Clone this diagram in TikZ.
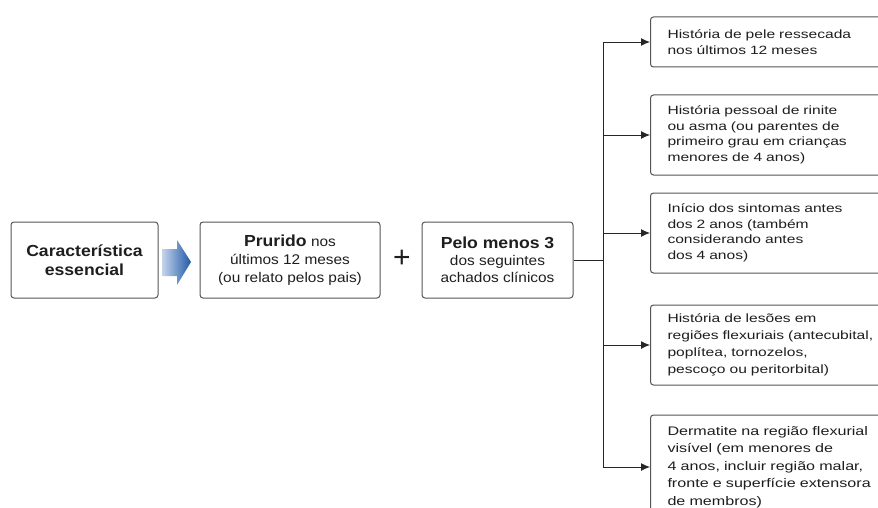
\documentclass[tikz,border=0pt]{standalone}
\usepackage{fontspec}
\setmainfont{Liberation Sans}
\newfontfamily\rfont{Liberation Sans}[FakeStretch=1.3]
\newfontfamily\lfont{Liberation Sans}[FakeStretch=1.1]
\usetikzlibrary{arrows.meta}
\definecolor{txt}{HTML}{1E1E1E}
\definecolor{brd}{HTML}{555555}
\definecolor{arrlight}{HTML}{C6D4EC}
\definecolor{arrdark}{HTML}{1F5AA6}
\tikzset{
  box/.style={draw=brd, line width=1pt, rounded corners=3pt, fill=white, text=txt},
  leftbox/.style={box, minimum height=76pt, align=center, inner sep=0pt},
  rbox/.style={box, anchor=west, text width=235pt, align=left, inner xsep=17pt, inner ysep=0pt,
    font=\rfont\fontsize{12}{15.5}\selectfont},
  conn/.style={draw=black!85, line width=0.9pt},
  arr/.style={conn, -{Latex[length=9pt,width=8pt]}}
}
\begin{document}
\begin{tikzpicture}[x=1pt,y=-1pt]
\useasboundingbox (0,0) rectangle (878,508);
\clip (0,0) rectangle (878,508);

\node[leftbox, minimum width=147pt, font=\lfont\bfseries\fontsize{16}{19}\selectfont] (c1) at (84.5,260) {Característica\\essencial};
\shade[left color=arrlight, right color=arrdark]
  (162,249) -- (177,249) -- (177,240) -- (191,262) -- (177,285) -- (177,276) -- (162,276) -- cycle;
\node[leftbox, minimum width=180pt, font=\lfont\fontsize{14}{18}\selectfont] (c2) at (290,260)
  {{\bfseries\fontsize{16}{18}\selectfont Prurido} nos\\últimos 12 meses\\(ou relato pelos pais)};
\node[font=\fontsize{30}{30}\selectfont, text=txt, inner sep=0pt] (plus) at (402,259) {+};
\node[leftbox, minimum width=151pt, font=\lfont\fontsize{14}{17}\selectfont] (c3) at (497.5,260)
  {{\bfseries\fontsize{16}{18}\selectfont Pelo menos 3}\\dos seguintes\\achados clínicos};

\node[rbox, minimum height=50pt] (rA) at (650,42) {História de pele ressecada\\nos últimos 12 meses};
\node[rbox, minimum height=80pt] (rB) at (650,135) {História pessoal de rinite\\ou asma (ou parentes de\\primeiro grau em crianças\\menores de 4 anos)};
\node[rbox, minimum height=80pt] (rC) at (650,233) {Início dos sintomas antes\\dos 2 anos (também\\considerando antes\\dos 4 anos)};
\node[rbox, minimum height=80pt, font=\rfont\fontsize{12}{17}\selectfont] (rD) at (650,345) {História de lesões em\\regiões flexuriais (antecubital,\\poplítea, tornozelos,\\pescoço ou peritorbital)};
\node[rbox, minimum height=104pt, font=\rfont\fontsize{12.4}{17.5}\selectfont] (rE) at (650,467) {Dermatite na região flexurial\\visível (em menores de\\4 anos, incluir região malar,\\fronte e superfície extensora\\de membros)};

\coordinate (j) at (603,260);
\draw[conn] (c3.east) -- (j);
\draw[conn] (j |- rA.west) -- (j |- rE.west);
\foreach \n in {rA,rB,rC,rD,rE}{
  \draw[arr] (j |- \n.west) -- (\n.west);
}
\end{tikzpicture}
\end{document}
